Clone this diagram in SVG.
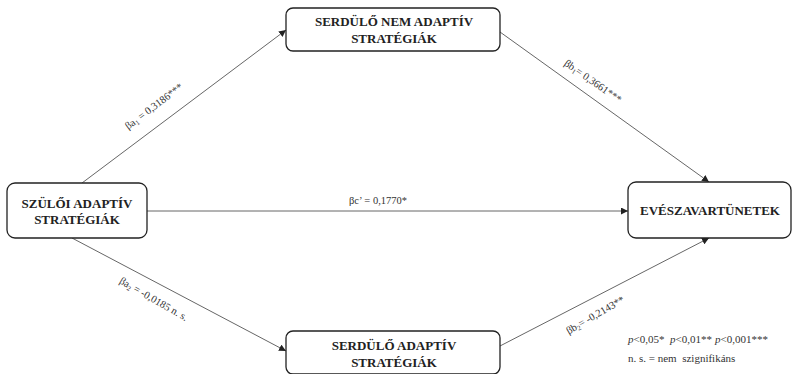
<svg xmlns="http://www.w3.org/2000/svg" width="793" height="374" viewBox="0 0 793 374">
<style>
.box{fill:#fff;stroke:#222;stroke-width:1.3}
.bt{font-family:"Liberation Serif","Times New Roman",serif;font-weight:bold;font-size:13px;fill:#222;text-anchor:middle}
.lbl{font-family:"Liberation Serif","Times New Roman",serif;font-size:10.5px;fill:#333}
.lg{font-family:"Liberation Serif","Times New Roman",serif;font-size:11px;fill:#333}
.ln{stroke:#555;stroke-width:0.9;fill:none;marker-end:url(#ah)}
</style>
<defs>
<marker id="ah" viewBox="0 0 10 10" refX="10" refY="5" markerWidth="7" markerHeight="7" markerUnits="userSpaceOnUse" orient="auto">
<path d="M0,0 L10,5 L0,10 z" fill="#222"/>
</marker>
</defs>
<rect width="793" height="374" fill="#fff"/>
<g id="connectors">
<line class="ln" x1="82" y1="183" x2="286" y2="30"/>
<line class="ln" x1="500" y1="32" x2="709" y2="182"/>
<line class="ln" x1="147" y1="211" x2="628" y2="211"/>
<line class="ln" x1="72" y1="238" x2="286" y2="351"/>
<line class="ln" x1="500" y1="346" x2="709" y2="238"/>
<text class="lbl" transform="translate(156,109) rotate(-37)" text-anchor="middle">βa<tspan font-size="7" dy="2">1</tspan><tspan dy="-2"> = 0,3186***</tspan></text>
<text class="lbl" transform="translate(591,84) rotate(35)" text-anchor="middle">βb<tspan font-size="7" dy="2">1</tspan><tspan dy="-2">= 0,3661***</tspan></text>
<text class="lbl" x="378" y="204" text-anchor="middle">βc’ = 0,1770*</text>
<text class="lbl" transform="translate(152,302) rotate(30)" text-anchor="middle">βa<tspan font-size="7" dy="2">2</tspan><tspan dy="-2"> = -0,0185 n. s.</tspan></text>
<text class="lbl" transform="translate(597,318) rotate(-30)" text-anchor="middle">βb<tspan font-size="7" dy="2">2</tspan><tspan dy="-2">= -0,2143**</tspan></text>
</g>
<g id="node-top">
<rect class="box" x="286" y="8" width="214" height="43" rx="7"/>
<text class="bt" x="394" y="26">SERDÜLŐ NEM ADAPTÍV</text>
<text class="bt" x="394" y="43">STRATÉGIÁK</text>
</g>
<g id="node-left">
<rect class="box" x="7" y="183" width="140" height="55" rx="8"/>
<text class="bt" x="77" y="208">SZÜLŐI ADAPTÍV</text>
<text class="bt" x="77" y="224">STRATÉGIÁK</text>
</g>
<g id="node-right">
<rect class="box" x="628" y="182" width="163" height="56" rx="8"/>
<text class="bt" x="710" y="215">EVÉSZAVARTÜNETEK</text>
</g>
<g id="node-bottom">
<rect class="box" x="286" y="331" width="214" height="43" rx="7"/>
<text class="bt" x="394" y="350">SERDÜLŐ ADAPTÍV</text>
<text class="bt" x="394" y="367">STRATÉGIÁK</text>
</g>
<g id="legend">
<text class="lg" y="343"><tspan x="628" font-style="italic">p</tspan>&lt;0,05*<tspan x="670" font-style="italic">p</tspan>&lt;0,01**<tspan x="715" font-style="italic">p</tspan>&lt;0,001***</text>
<text class="lg" x="628" y="362" xml:space="preserve">n. s. = nem  szignifikáns</text>
</g>
</svg>
